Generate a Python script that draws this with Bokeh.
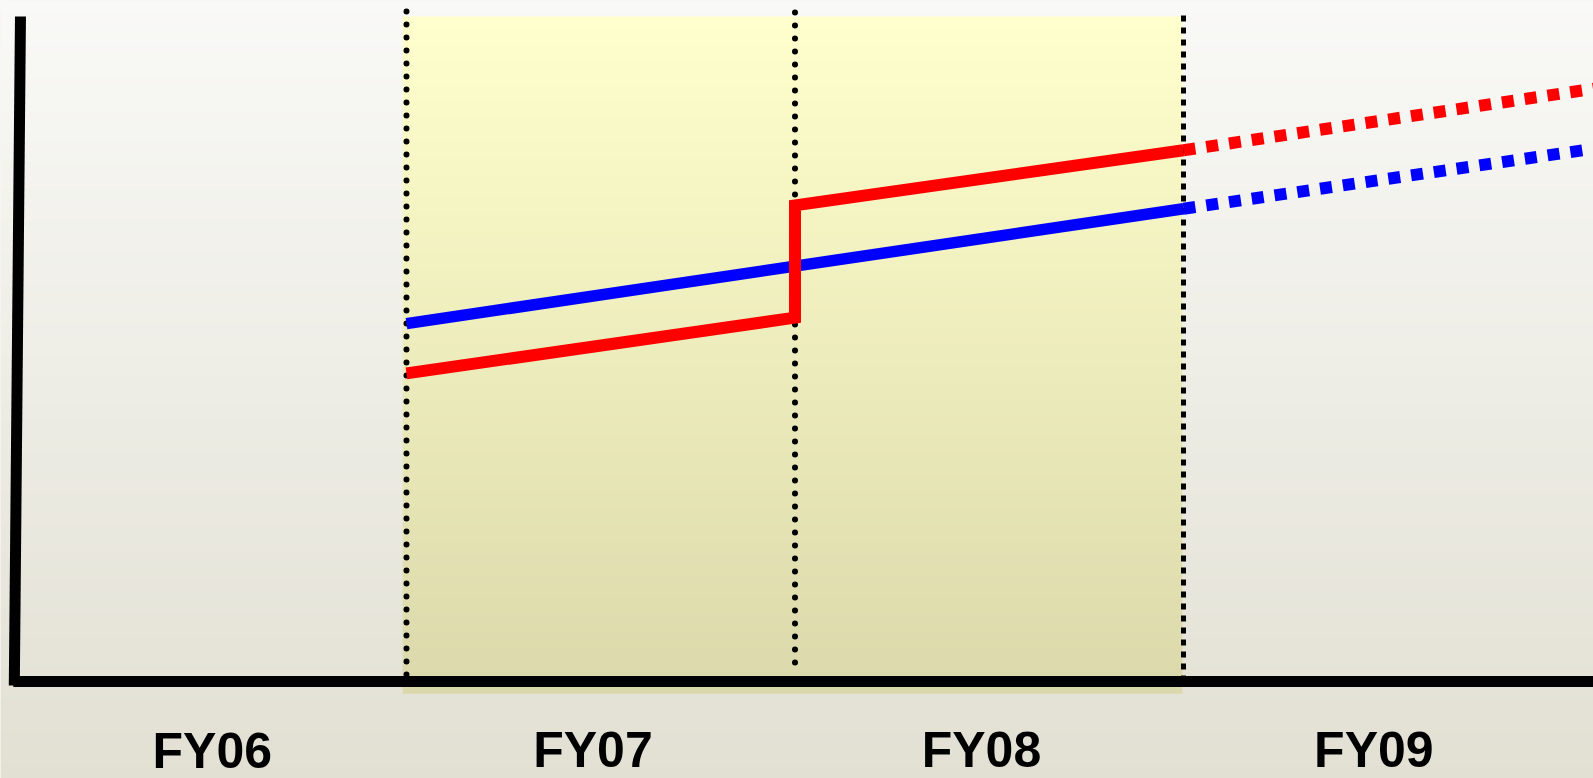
import numpy as np
from bokeh.plotting import figure
from bokeh.models import ColumnDataSource, Range1d
from bokeh.core.properties import value
from bokeh.embed import file_html
from bokeh.resources import INLINE

# ---- data (fiscal-year positions, arbitrary budget units) ----
labels = ["FY06", "FY07", "FY08", "FY09"]
label_x = [2006.5, 2007.48, 2008.48, 2009.49]
label_y = [-10.45, -10.25, -10.25, -10.25]

fy_bounds = [2007, 2008, 2009]          # dotted separators

blue_x = [2007, 2009]
blue_y = [53.9, 71.2]
blue_proj_x = [2009, 2010.027]
blue_proj_y = [71.2, 80.0]

red_x = [2007, 2008, 2008, 2009]
red_y = [46.4, 54.8, 71.7, 80.0]
red_proj_x = [2009, 2010.07]
red_proj_y = [80.0, 89.4]

X0, X1 = 2005.955, 2010.0553
Y0, Y1 = -14.61, 102.56

p = figure(width=1593, height=778, output_backend="svg", toolbar_location=None,
           x_axis_type=None, y_axis_type=None, min_border=0,
           x_range=Range1d(X0, X1), y_range=Range1d(Y0, Y1))
p.outline_line_color = None
p.grid.visible = False
p.background_fill_color = "#eeede6"
p.border_fill_color = "#eeede6"


def lerp(c0, c1, t):
    return "#%02x%02x%02x" % tuple(int(round(a + (b - a) * t)) for a, b in zip(c0, c1))


# background gradient
N = 120
edges = np.linspace(Y1, Y0, N + 1)
cols = [lerp((249, 249, 247), (226, 224, 211), (i + 0.5) / N) for i in range(N)]
p.quad(left=X0, right=X1, top=edges[:-1] + 0.05, bottom=edges[1:] - 0.05,
       fill_color=cols, line_color=None)

# shaded FY07-FY08 region gradient
YT, YB = 100.15, -1.81
edges = np.linspace(YT, YB, N + 1)
cols = [lerp((255, 255, 205), (219, 217, 171), (i + 0.5) / N) for i in range(N)]
p.quad(left=2006.99, right=2008.997, top=np.minimum(edges[:-1] + 0.05, YT),
       bottom=edges[1:] - 0.05, fill_color=cols, line_color=None)

# dotted separators
p.line([fy_bounds[0], fy_bounds[0]], [100.9, 0.2], line_color="black", line_width=6,
       line_cap="round", line_dash="0 13")
p.line([fy_bounds[1], fy_bounds[1]], [100.75, 2.6], line_color="black", line_width=6,
       line_cap="round", line_dash="0 13")
p.line([fy_bounds[2], fy_bounds[2]], [100.3, 0.0], line_color="black", line_width=5,
       line_dash="6 6")

# axes (hand drawn)
p.line([2006.0064, 2005.9905], [100.15, -0.6], line_color="black", line_width=11)
p.line([2005.988, X1 + 0.1], [0, 0], line_color="black", line_width=11)

# series
p.line(blue_x, blue_y, line_color="#0000ff", line_width=11.5)
p.line(blue_proj_x, blue_proj_y, line_color="#0000ff", line_width=12, line_dash="12 11")
p.line(red_x, red_y, line_color="#ff0000", line_width=12, line_join="miter")
p.line(red_proj_x, red_proj_y, line_color="#ff0000", line_width=12, line_dash="12 11")

src = ColumnDataSource(dict(x=label_x, y=label_y, t=labels))
p.text(x="x", y="y", text="t", source=src, text_font=value("Liberation Sans"),
       text_font_style="bold", text_font_size="50px", text_align="center",
       text_baseline="alphabetic", text_color="black")

open("out.html", "w").write(file_html(p, INLINE))
